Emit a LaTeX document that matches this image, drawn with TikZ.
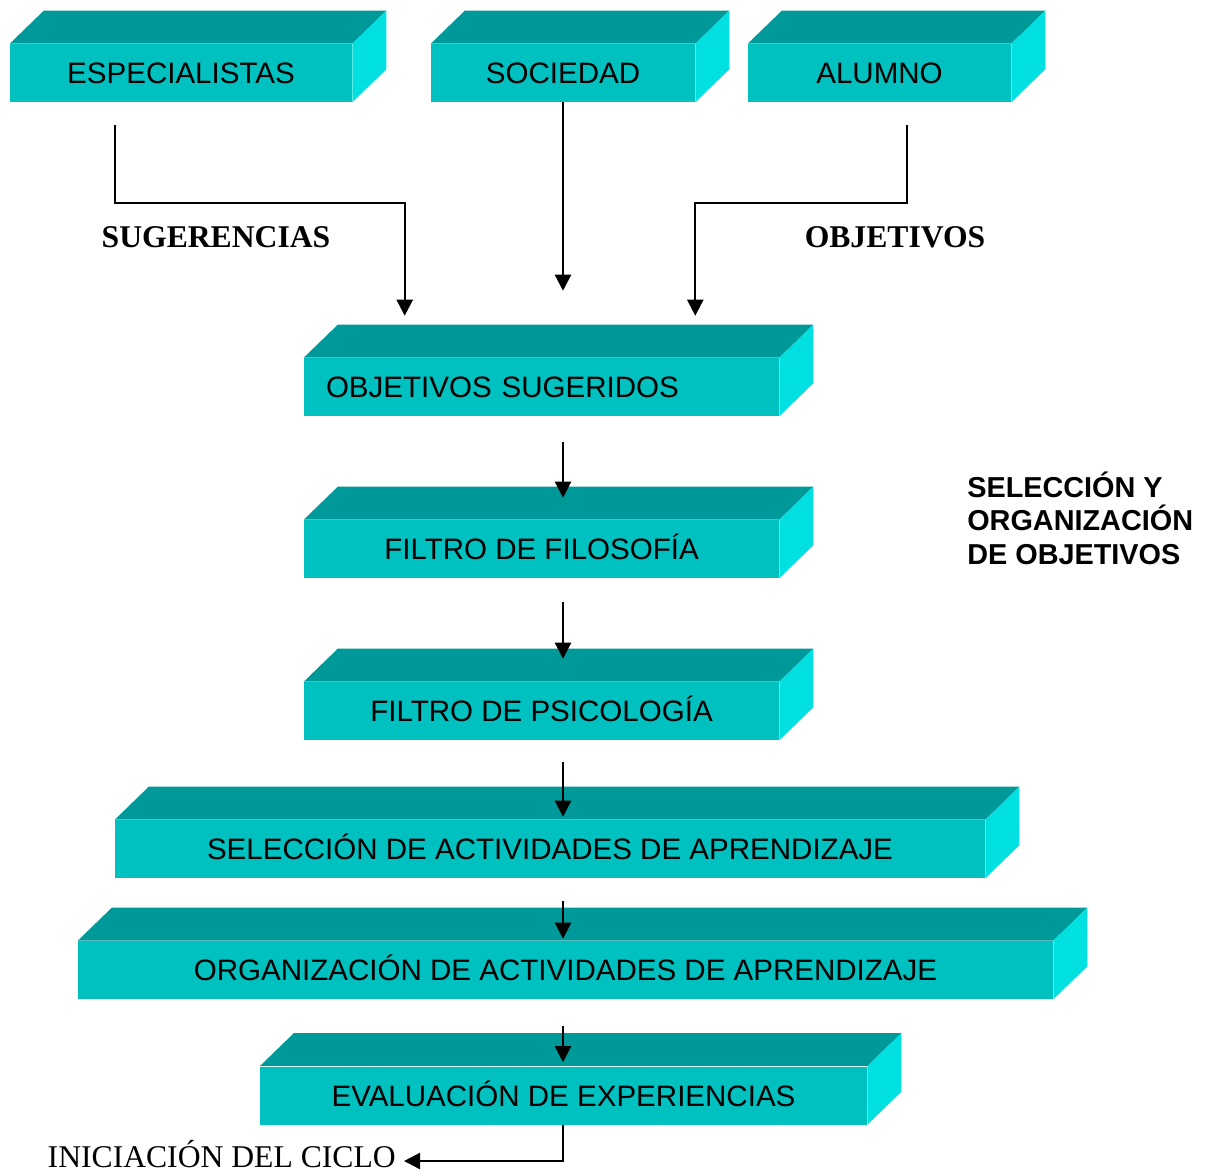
\documentclass[tikz,border=0pt]{standalone}
\usepackage{fontspec}
\setmainfont{Liberation Serif}
\setsansfont{Liberation Sans}
\usetikzlibrary{calc,arrows.meta}

\definecolor{frente}{RGB}{0,192,192}
\definecolor{techo}{RGB}{0,153,153}
\definecolor{lado}{RGB}{0,224,224}
\newcommand{\pxu}{0.025cm}

\tikzset{
	bloque/.style={rectangle, fill=frente, inner sep=0pt, minimum height=58*\pxu,
		text height=15pt, text depth=0pt,
		font=\sffamily\fontsize{21}{24}\selectfont},
	flecha/.style={line width=1.6pt, -{Triangle[width=16*\pxu,length=16*\pxu]}},
	rotulo/.style={font=\rmfamily\bfseries\fontsize{22.5}{26}\selectfont, inner sep=0pt}
}

\begin{document}
\begin{tikzpicture}[x=0.025cm, y=-0.025cm]
		\useasboundingbox (0,0) rectangle (1207,1173);
		
		% Top row: sources
		\node[bloque, minimum width=342*\pxu] (esp) at (181,73) {ESPECIALISTAS};
		\node[bloque, minimum width=264*\pxu] (soc) at (563,73) {SOCIEDAD};
		\node[bloque, minimum width=263*\pxu] (alu) at (879.5,73) {ALUMNO};
		
		% Middle column: filters
		\node[bloque, minimum width=475*\pxu, text width=431*\pxu, inner xsep=22*\pxu, align=left] (obj) at (541.5,387) {OBJETIVOS SUGERIDOS};
		\node[bloque, minimum width=475*\pxu] (fil) at (541.5,549) {FILTRO DE FILOSOFÍA};
		\node[bloque, minimum width=475*\pxu] (psi) at (541.5,711) {FILTRO DE PSICOLOGÍA};
		
		% Bottom: activities
		\node[bloque, minimum width=870*\pxu] (sel) at (550,849) {SELECCIÓN DE ACTIVIDADES DE APRENDIZAJE};
		\node[bloque, minimum width=975*\pxu] (org) at (565.5,970) {ORGANIZACIÓN DE ACTIVIDADES DE APRENDIZAJE};
		\node[bloque, minimum width=607*\pxu] (eva) at (563.5,1095.5) {EVALUACIÓN DE EXPERIENCIAS};
		
		% Top and side faces
		\foreach \n in {esp,soc,alu,obj,fil,psi,sel,org,eva} {
			\fill[techo] (\n.north west) -- ([shift={(34,-33)}]\n.north west)
				-- ([shift={(34,-33)}]\n.north east) -- (\n.north east) -- cycle;
			\fill[lado] (\n.north east) -- ([shift={(34,-33)}]\n.north east)
				-- ([shift={(34,-33)}]\n.south east) -- (\n.south east) -- cycle;
		}
		
		% Labels
		\node[rotulo] (sug) at (216,237) {SUGERENCIAS};
		\node[rotulo] (objl) at (895,237) {OBJETIVOS};
		\node[anchor=west, align=left, inner sep=0pt, font=\sffamily\bfseries\fontsize{20.5}{23.8}\selectfont] (selorg) at (967,518) {SELECCIÓN Y\\ORGANIZACIÓN\\DE OBJETIVOS};
		\node[anchor=east, inner sep=0pt, font=\rmfamily\fontsize{22.5}{26}\selectfont] (ini) at (396,1154) {INICIACIÓN DEL CICLO};
		
		% Arrows into the filters
		\draw[flecha] ($(esp.south west)+(105,23)$) |- ($(obj.north west)+(101,-155)$) -- ($(obj.north west)+(101,-42)$);
		\draw[flecha] (soc.south) -- ($(obj.north -| soc)+(0,-67)$);
		\draw[flecha] ($(alu.south west)+(159,23)$) |- ($(obj.north east)+(-84,-155)$) -- ($(obj.north east)+(-84,-42)$);
		
		% Arrows down the column
		\foreach \a/\b/\s/\e in {obj/fil/26/22, fil/psi/24/23, psi/sel/22/3, sel/org/23/2, org/eva/27/4}
			\draw[flecha] ($(\a.south -| soc)+(0,\s)$) -- ($(\b.north -| soc)+(0,-\e)$);
		
		% Back to the start
		\draw[flecha] (eva.south -| soc) |- ($(ini.east)+(8,7)$);
		
	\end{tikzpicture}
\end{document}
